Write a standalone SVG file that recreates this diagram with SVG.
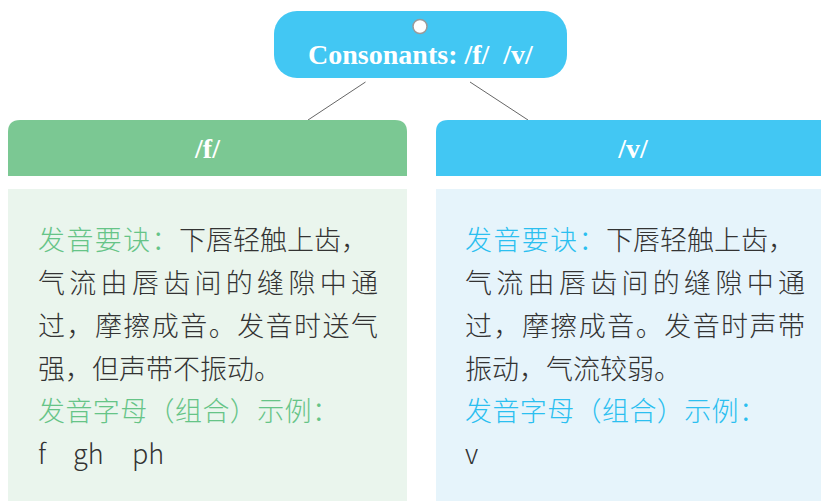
<svg xmlns="http://www.w3.org/2000/svg" width="821" height="501" viewBox="0 0 821 501">
<style>
.ttl{font-family:"Liberation Serif","Times New Roman",serif;font-weight:bold;fill:#ffffff;text-anchor:middle}
.body{font-family:"Noto Sans CJK SC","Noto Sans",sans-serif;font-size:27px;font-weight:300;fill:#333333}
.g{fill:#66c487}
.b{fill:#2bbff0}
.conn{stroke:#666666;stroke-width:1;fill:none}
</style>
<rect width="821" height="501" fill="#ffffff"/>
<g id="connectors">
<line class="conn" x1="365.5" y1="82" x2="308" y2="120"/>
<line class="conn" x1="470" y1="82" x2="528" y2="120"/>
</g>
<g id="root">
<rect x="274" y="11" width="293" height="67" rx="23" ry="23" fill="#42c7f3"/>
<circle cx="420" cy="26.5" r="7" fill="#ffffff" stroke="#9a9a9a" stroke-width="1.5"/>
<text class="ttl" x="420.5" y="64" font-size="28" xml:space="preserve">Consonants: /f/  /v/</text>
</g>
<g id="node-f">
<path d="M8,176 V132 Q8,120 20,120 H395 Q407,120 407,132 V176 Z" fill="#7bc893"/>
<text class="ttl" x="207.5" y="158" font-size="28">/f/</text>
<rect x="8" y="189" width="399" height="312" fill="#eaf5ed"/>
<text class="body" y="250"><tspan class="g" x="38" letter-spacing="1.4">发音要诀：</tspan><tspan x="179">下唇轻触上齿，</tspan></text>
<text class="body" x="38" y="293" textLength="340" lengthAdjust="spacing">气流由唇齿间的缝隙中通</text>
<text class="body" x="38" y="336" textLength="340" lengthAdjust="spacing">过，摩擦成音。发音时送气</text>
<text class="body" x="38" y="379">强，但声带不振动。</text>
<text class="body g" x="38" y="421" letter-spacing="0.4">发音字母（组合）示例：</text>
<text class="body" y="464"><tspan x="38">f</tspan><tspan x="73">gh</tspan><tspan x="132">ph</tspan></text>
</g>
<g id="node-v">
<path d="M436,176 V132 Q436,120 448,120 H830 V176 Z" fill="#42c7f3"/>
<text class="ttl" x="633" y="158" font-size="28">/v/</text>
<rect x="436" y="189" width="390" height="312" fill="#e6f4fb"/>
<text class="body" y="250"><tspan class="b" x="465" letter-spacing="1.4">发音要诀：</tspan><tspan x="606">下唇轻触上齿，</tspan></text>
<text class="body" x="465" y="293" textLength="340" lengthAdjust="spacing">气流由唇齿间的缝隙中通</text>
<text class="body" x="465" y="336" textLength="340" lengthAdjust="spacing">过，摩擦成音。发音时声带</text>
<text class="body" x="465" y="379">振动，气流较弱。</text>
<text class="body b" x="465" y="421" letter-spacing="0.4">发音字母（组合）示例：</text>
<text class="body" x="465" y="464">v</text>
</g>
</svg>
